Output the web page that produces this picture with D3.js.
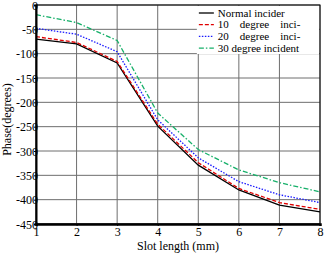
<!DOCTYPE html>
<html>
<head>
<meta charset="utf-8">
<script src="https://cdn.jsdelivr.net/npm/d3@7"></script>
<style>
  body { margin: 0; background: #fff; }
  #chart text { font-family: serif !important; font-weight: normal !important; }
</style>
</head>
<body>
<svg id="chart" width="329" height="253"></svg>
<script>
// données
const slotLength = [1, 2, 3, 4, 5, 6, 7, 8];
const normalInc = [-70, -80, -119, -249, -329, -380, -411, -425];
const deg10 = [-65, -77, -116, -245, -324, -377, -406, -420];
const deg20 = [-48, -60, -96, -236, -314, -363, -390, -406];
const deg30 = [-20, -36, -73, -222, -297, -339, -365, -384];
const seriesNames = ["Normal incider", "10    degree    inci-", "20    degree    inci-", "30 degree incident"];
const yTicks = [0, -50, -100, -150, -200, -250, -300, -350, -400, -450];

const margin = { top: 5, right: 9, bottom: 29, left: 36 },
    width = 329 - margin.left - margin.right,
    height = 253 - margin.top - margin.bottom;

const svg = d3.select("#chart")
    .append("g")
    .attr("transform", `translate(${margin.left}, ${margin.top})`);

const x = d3.scaleLinear().domain([1, 8]).range([0, width]);
const y = d3.scaleLinear().domain([-450, 0]).range([height, 0]);

// grille
svg.append("g")
    .selectAll("line")
    .data(slotLength)
    .join("line")
    .attr("x1", d => x(d)).attr("x2", d => x(d))
    .attr("y1", 0).attr("y2", height)
    .attr("stroke", "#6e6e6e").attr("stroke-width", 1);
svg.append("g")
    .selectAll("line")
    .data(yTicks)
    .join("line")
    .attr("x1", 0).attr("x2", width)
    .attr("y1", d => y(d)).attr("y2", d => y(d))
    .attr("stroke", "#6e6e6e").attr("stroke-width", 1);

// cadre
svg.append("rect")
    .attr("x", 0).attr("y", 0)
    .attr("width", width).attr("height", height)
    .attr("fill", "none").attr("stroke", "#000").attr("stroke-width", 1);

// courbes
const series = [
    { values: normalInc, color: "#000000", dash: null },
    { values: deg10, color: "#e00000", dash: "4,2" },
    { values: deg20, color: "#1a1aff", dash: "1.5,1.5" },
    { values: deg30, color: "#17b06a", dash: "5,2,1.5,2" }
];
const line = d3.line()
    .x((d, i) => x(slotLength[i]))
    .y(d => y(d));

svg.append("g")
    .selectAll("path")
    .data(series)
    .join("path")
    .attr("d", d => line(d.values))
    .attr("fill", "none")
    .attr("stroke", d => d.color)
    .attr("stroke-width", 1.3)
    .attr("stroke-dasharray", d => d.dash);

// axes
const xAxis = svg.append("g")
    .attr("transform", `translate(0, ${height})`)
    .call(d3.axisBottom(x).tickValues(slotLength).tickSize(2).tickFormat(d => String(d)));
xAxis.attr("font-family", "serif").attr("font-size", 12);
xAxis.select(".domain").attr("stroke-width", 2.5);
xAxis.selectAll("text").attr("y", 3).attr("dy", "0.72em");

const yAxis = svg.append("g")
    .call(d3.axisLeft(y).tickValues(yTicks).tickSize(2).tickFormat(d => String(d)));
yAxis.attr("font-family", "serif").attr("font-size", 12);
yAxis.select(".domain").attr("stroke-width", 2);
yAxis.selectAll("text").attr("x", 2).attr("dy", "0.35em");

// titres des axes
svg.append("text")
    .attr("x", width / 2)
    .attr("y", height + 26)
    .attr("text-anchor", "middle")
    .attr("font-size", 12)
    .text("Slot length (mm)");

svg.append("text")
    .attr("transform", `translate(${-25}, ${height / 2 + 5}) rotate(-90)`)
    .attr("text-anchor", "middle")
    .attr("font-size", 12)
    .text("Phase(degrees)");

// légende
const legend = svg.append("g").attr("transform", `translate(${x(6) - 42}, 1)`);
legend.append("rect")
    .attr("x", 0).attr("y", 0)
    .attr("width", width - (x(6) - 42) - 1).attr("height", 48)
    .attr("fill", "#fff");
const rowH = 11.7;
legend.selectAll("line")
    .data(series)
    .join("line")
    .attr("x1", 2).attr("x2", 17)
    .attr("y1", (d, i) => 7 + i * rowH).attr("y2", (d, i) => 7 + i * rowH)
    .attr("stroke", d => d.color)
    .attr("stroke-width", 1.3)
    .attr("stroke-dasharray", d => d.dash);
legend.selectAll("text")
    .data(seriesNames)
    .join("text")
    .attr("x", 21)
    .attr("y", (d, i) => 7 + i * rowH)
    .attr("dy", "0.33em")
    .attr("font-size", 11)
    .style("white-space", "pre")
    .text(d => d);
</script>
</body>
</html>
